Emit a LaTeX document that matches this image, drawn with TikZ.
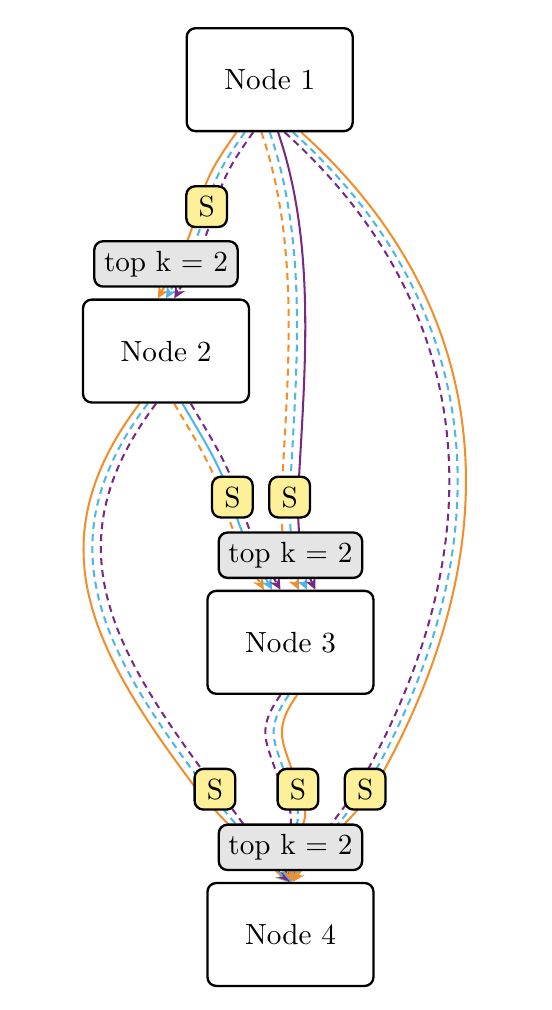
\documentclass[tikz,border=0pt]{standalone}
\usepackage{amsmath}
\usepackage{amssymb}
\usepackage{tikz}
\usetikzlibrary{arrows.meta,backgrounds}

\definecolor{lineorange}{RGB}{242,142,43}
\definecolor{lineblue}{RGB}{77,182,232}
\definecolor{linepurple}{RGB}{118,42,131}
\definecolor{selyellow}{RGB}{253,240,153}

\tikzset{
  box/.style={draw,thick,rounded corners=3pt,minimum width=2cm,minimum height=1.24cm},
  topk/.style={draw,thick,rounded corners=3pt,fill=gray!20},
  sel/.style={draw,thick,rounded corners=3pt,fill=selyellow,minimum size=0.49cm,inner sep=1pt},
  flow/.style={line width=0.7pt,-{Stealth[length=4pt,width=3.8pt]}},
  dashflow/.style={flow,dash pattern=on 2.4pt off 1.7pt},
}

\begin{document}
\begin{tikzpicture}
\useasboundingbox (0,0) rectangle (6.65,12.17);

\node[box] (n1) at (3.25,11.21) {Node 1};
\node[box] (n2) at (2,7.94) {Node 2};
\node[box] (n3) at (3.5,4.43) {Node 3};
\node[box] (n4) at (3.5,0.91) {Node 4};

\node[topk] (k1) at (2,8.99) {top k = 2};
\node[topk] (k2) at (3.5,5.48) {top k = 2};
\node[topk] (k3) at (3.5,1.96) {top k = 2};

\node[sel] (s1) at (2.49,9.68) {S};
\node[sel] (s2) at (2.8,6.18) {S};
\node[sel] (s3) at (3.49,6.18) {S};
\node[sel] (s4) at (2.59,2.66) {S};
\node[sel] (s5) at (3.59,2.66) {S};
\node[sel] (s6) at (4.4,2.66) {S};

\begin{scope}[on background layer]
% node 1 -> node 2
\draw[flow,lineorange] ([xshift=-0.4cm]n1.south) to[out=-125,in=75] ([xshift=-0.1cm]s1.center) to[out=-105,in=60] ([xshift=-0.1cm]n2.north);
\draw[dashflow,lineblue] ([xshift=-0.3cm]n1.south) to[out=-125,in=75] (s1.center) to[out=-105,in=60] (n2.north);
\draw[dashflow,linepurple] ([xshift=-0.2cm]n1.south) to[out=-125,in=75] ([xshift=0.1cm]s1.center) to[out=-105,in=60] ([xshift=0.1cm]n2.north);
% node 1 -> node 3
\draw[dashflow,lineorange] ([xshift=-0.1cm]n1.south) to[out=-71,in=87,looseness=0.85] ([xshift=-0.1cm]s3.center) to[out=-90,in=115] ([xshift=0.1cm]n3.north);
\draw[dashflow,lineblue] (n1.south) to[out=-71,in=87,looseness=0.85] (s3.center) to[out=-90,in=115] ([xshift=0.2cm]n3.north);
\draw[flow,linepurple] ([xshift=0.1cm]n1.south) to[out=-71,in=87,looseness=0.85] ([xshift=0.1cm]s3.center) to[out=-90,in=115] ([xshift=0.3cm]n3.north);
% node 1 -> node 4
\draw[dashflow,linepurple] ([xshift=0.18cm]n1.south) to[out=-42,in=60,out looseness=0.96,in looseness=1.16] ([xshift=-0.1cm]s6.center) to[out=-125,in=55] ([xshift=-0.03cm]n4.north);
\draw[dashflow,lineblue] ([xshift=0.28cm]n1.south) to[out=-42,in=60,out looseness=0.96,in looseness=1.16] (s6.center) to[out=-125,in=55] (n4.north);
\draw[flow,lineorange] ([xshift=0.38cm]n1.south) to[out=-42,in=60,out looseness=0.96,in looseness=1.16] ([xshift=0.1cm]s6.center) to[out=-125,in=55] ([xshift=0.03cm]n4.north);
% node 2 -> node 3
\draw[dashflow,lineorange] ([xshift=0.1cm]n2.south) to[out=-60,in=110] ([xshift=-0.12cm]s2.center) to[out=-75,in=120] ([xshift=-0.32cm]n3.north);
\draw[flow,lineblue] ([xshift=0.2cm]n2.south) to[out=-60,in=110] ([xshift=-0.02cm]s2.center) to[out=-75,in=120] ([xshift=-0.22cm]n3.north);
\draw[dashflow,linepurple] ([xshift=0.3cm]n2.south) to[out=-60,in=110] ([xshift=0.08cm]s2.center) to[out=-75,in=120] ([xshift=-0.12cm]n3.north);
% node 2 -> node 4
\draw[flow,lineorange] ([xshift=-0.32cm]n2.south) to[out=-127,in=127,looseness=1.15] ([xshift=-0.22cm]s4.center) to[out=-50,in=135] ([xshift=-0.04cm]n4.north);
\draw[dashflow,lineblue] ([xshift=-0.22cm]n2.south) to[out=-127,in=127,looseness=1.15] ([xshift=-0.1cm]s4.center) to[out=-50,in=135] ([xshift=-0.02cm]n4.north);
\draw[dashflow,linepurple] ([xshift=-0.12cm]n2.south) to[out=-127,in=127,looseness=1.15] ([xshift=0.02cm]s4.center) to[out=-50,in=135] (n4.north);
% node 3 -> node 4
\draw[dashflow,linepurple] ([xshift=-0.12cm]n3.south) to[out=-125,in=105,looseness=1.3] ([xshift=-0.2cm]s5.center) to[out=-60,in=105,looseness=1.3] ([xshift=-0.02cm]n4.north);
\draw[dashflow,lineblue] ([xshift=-0.02cm]n3.south) to[out=-125,in=105,looseness=1.3] ([xshift=-0.1cm]s5.center) to[out=-60,in=105,looseness=1.3] (n4.north);
\draw[flow,lineorange] ([xshift=0.08cm]n3.south) to[out=-125,in=105,looseness=1.3] (s5.center) to[out=-60,in=105,looseness=1.3] ([xshift=0.02cm]n4.north);
\end{scope}
\end{tikzpicture}
\end{document}
